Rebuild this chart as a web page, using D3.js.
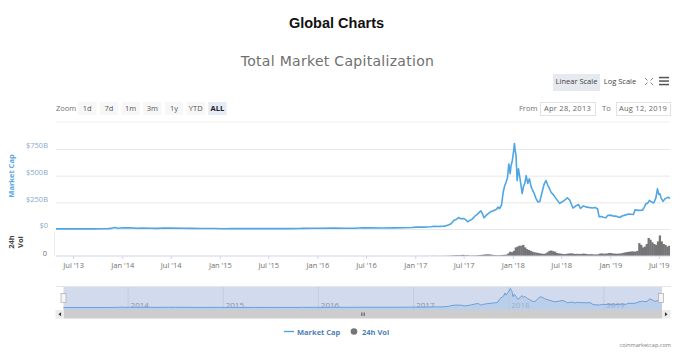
<!DOCTYPE html>
<html>
<head>
<meta charset="utf-8">
<title>Global Charts</title>
<script src="https://cdn.jsdelivr.net/npm/d3@7/dist/d3.min.js"></script>
<style>
    html, body { margin: 0; padding: 0; background: #fff; }
    svg { display: block; }
    text { font-family: "Open Sans", "DejaVu Sans", sans-serif; }
    .domain { display: none; }
</style>
</head>
<body>
<div id="chart"></div>
<script>
// values, market cap and volume in $B
const capDates = ["2013-04-28","2013-05-15","2013-06-15","2013-07-05","2013-08-15","2013-09-15","2013-10-15","2013-11-10","2013-11-25","2013-12-04","2013-12-18",
    "2014-01-05","2014-02-01","2014-02-25","2014-03-20","2014-04-15","2014-05-10","2014-06-05","2014-07-01","2014-08-15","2014-09-20","2014-10-20","2014-11-15","2014-12-15",
    "2015-01-15","2015-02-15","2015-03-15","2015-05-01","2015-06-15","2015-07-10","2015-08-20","2015-09-25","2015-10-25","2015-11-05","2015-12-15",
    "2016-01-15","2016-03-01","2016-04-15","2016-05-20","2016-06-18","2016-07-15","2016-09-01","2016-10-15","2016-11-20","2016-12-20",
    "2017-01-05","2017-02-01","2017-03-01","2017-03-12","2017-04-01","2017-04-20","2017-05-05","2017-05-15","2017-05-25","2017-06-05","2017-06-12","2017-06-20","2017-07-01","2017-07-08","2017-07-16","2017-07-22","2017-08-01","2017-08-12","2017-08-22","2017-09-01","2017-09-04","2017-09-10","2017-09-15","2017-09-22","2017-10-01","2017-10-12","2017-10-20","2017-11-01","2017-11-07","2017-11-12","2017-11-20","2017-11-26","2017-12-01","2017-12-07","2017-12-12","2017-12-17","2017-12-22","2017-12-25","2017-12-30",
    "2018-01-04","2018-01-07","2018-01-10","2018-01-13","2018-01-17","2018-01-22","2018-01-28","2018-02-05","2018-02-10","2018-02-15","2018-02-20","2018-02-26","2018-03-04","2018-03-10","2018-03-15","2018-03-22","2018-03-28","2018-04-05","2018-04-12","2018-04-20","2018-04-28","2018-05-05","2018-05-12","2018-05-18","2018-05-24","2018-06-02","2018-06-12","2018-06-25","2018-07-05","2018-07-14","2018-07-24","2018-08-02","2018-08-14","2018-08-24","2018-09-04","2018-09-11","2018-09-22","2018-10-05","2018-10-25","2018-11-05","2018-11-14","2018-11-20","2018-11-28","2018-12-05","2018-12-15","2018-12-22","2018-12-30",
    "2019-01-10","2019-01-25","2019-02-05","2019-02-14","2019-02-25","2019-03-10","2019-03-28","2019-04-03","2019-04-15","2019-05-01","2019-05-08","2019-05-14","2019-05-20","2019-05-27","2019-06-03","2019-06-12","2019-06-20","2019-06-26","2019-07-01","2019-07-05","2019-07-10","2019-07-17","2019-07-25","2019-08-05","2019-08-12"];
const capValues = [1.5,1.3,1.2,0.9,1.3,1.6,1.9,3.8,8.5,14.5,7.5,
    11,10.5,7.5,8.5,6.5,6,9,8.5,7.2,5.8,5,5.2,4.6,
    3,3.4,3.9,3.4,3.4,4.5,3.4,3.5,4.2,6,6.8,
    6.7,8.8,7.4,7.6,12.3,10.5,9.5,10.5,12,13.5,
    17.5,17.5,21,25,24,27,38,50,80,92,108,96,99,88,68,78,90,120,140,165,170,140,105,125,145,165,172,185,206,190,225,345,400,440,480,610,518,590,640,
    730,802,732,690,454,565,470,333,400,430,500,426,472,400,370,333,290,253,259,340,420,454,410,380,345,320,285,240,255,270,293,270,197,215,229,192,216,205,197,201,190,114,118,110,105,127,130,
    123,118,108,122,130,140,136,179,175,176,205,238,240,268,255,244,290,377,325,330,290,259,285,299,285];

const volStart = "2017-01-02"; // first weekly column, one value per week after this
const volValues = [0.3,0.3,0.2,0.2,0.3,0.3,0.4,0.5,0.6,1,0.8,0.7,0.5,
    0.6,0.7,0.9,1.2,1.5,2,3,4,4,5,4,6,7,4,5,3,2,3,2.5,3,5,6,7,8,9,10,9,8,6,
    5,4,4,5,6,7,8,15,25,22,30,50,55,60,
    60,65,50,40,35,30,25,22,20,18,15,14,12,15,22,30,32,28,25,18,15,14,12,11,12,14,15,15,13,12,13,12,12,14,13,11,10,11,10,9,9,10,14,15,13,14,15,18,
    17,14,14,13,14,15,17,20,22,24,25,27,26,26,30,75,65,50,55,70,105,95,80,70,65,85,120,85,70,65,55,60,50];

const capTicks = [0, 250, 500, 750];
const volTicks = [0];
const timeTicks = ["2013-07-01","2014-01-01","2014-07-01","2015-01-01","2015-07-01","2016-01-01","2016-07-01","2017-01-01","2017-07-01","2018-01-01","2018-07-01","2019-01-01","2019-07-01"];
const navYears = ["2014-01-01","2015-01-01","2016-01-01","2017-01-01","2018-01-01","2019-01-01"];
const zoomLabels = ["1d","7d","1m","3m","1y","YTD","ALL"];
const dateRange = ["2013-04-28","2019-08-12"];

const width = 680, height = 353;
const left = 56, right = 670;
const capColor = "#4fa6e2", volColor = "#757575", labelColor = "#707070";

const parse = d3.utcParse("%Y-%m-%d");
const cap = capDates.map((d, i) => ({date: parse(d), value: capValues[i]}));
const vol = volValues.map((v, i) => ({date: d3.utcWeek.offset(parse(volStart), i), value: v}));
const domain = dateRange.map(parse);

const svg = d3.select("#chart").append("svg").attr("width", width).attr("height", height);

// titles
svg.append("text").text("Global Charts")
    .attr("x", 336.5).attr("y", 28).attr("text-anchor", "middle")
    .style("font-family", "'Liberation Sans', Arial, sans-serif")
    .style("font-size", "14.5px").style("font-weight", "bold").attr("fill", "#111");
svg.append("text").text("Total Market Capitalization")
    .attr("x", 337.5).attr("y", 66).attr("text-anchor", "middle")
    .style("font-family", "'DejaVu Sans', sans-serif")
    .style("font-size", "14px").style("letter-spacing", "0.3px").attr("fill", "#707070");

// zoom buttons
function smallText(x, y, str, anchor, color, weight){
    return svg.append("text").text(str).attr("x", x).attr("y", y)
        .attr("text-anchor", anchor || "start")
        .attr("fill", color || labelColor)
        .style("font-size", "7.5px")
        .style("font-weight", weight || "normal");
}
smallText(56, 110.5, "Zoom");
zoomLabels.forEach((label, i) => {
    let x = 78 + i * 21.7, active = label === "ALL";
    svg.append("rect").attr("x", x).attr("y", 102).attr("width", 18.5).attr("height", 13)
        .attr("fill", active ? "#e6ebf5" : "#f7f7f7");
    smallText(x + 9.25, 110.5, label, "middle", active ? "#222" : "#555", active ? "bold" : "normal");
});

// scale switch and icons
svg.append("rect").attr("x", 553).attr("y", 74).attr("width", 47).attr("height", 17).attr("fill", "#e6e9ed");
smallText(576.5, 84, "Linear Scale", "middle", "#444");
smallText(620, 84, "Log Scale", "middle", "#444");
const icons = svg.append("g").attr("stroke", "#666").attr("fill", "none").attr("stroke-width", 0.8);
[[645, 78, 1, 1], [653, 78, -1, 1], [645, 85, 1, -1], [653, 85, -1, -1]].forEach(c => {
    icons.append("path").attr("d", d3.line()([[c[0], c[1]], [c[0] + 2.5 * c[2], c[1] + 2.5 * c[3]]]));
});
[77.5, 81, 84.5].forEach(y => {
    svg.append("rect").attr("x", 659).attr("y", y - 0.7).attr("width", 10).attr("height", 1.5).attr("fill", "#555");
});

// date range inputs
smallText(519, 110.5, "From");
smallText(602, 110.5, "To");
[[540, 55, dateRange[0], "Apr 28, 2013"], [616, 54, dateRange[1], "Aug 12, 2019"]].forEach(b => {
    svg.append("rect").attr("x", b[0] + 0.5).attr("y", 102.5).attr("width", b[1]).attr("height", 13)
        .attr("fill", "#fff").attr("stroke", "#e2e2e2");
    smallText(b[0] + b[1] / 2, 110.5, b[3], "middle", "#666").style("letter-spacing", "0.25px");
});

svg.append("line").attr("x1", left).attr("x2", right).attr("y1", 122).attr("y2", 122).attr("stroke", "#f0f0f0");

// main scales
const x = d3.scaleUtc().domain(domain).range([left, right]);
const yCap = d3.scaleLinear().domain([0, 750]).range([229, 149]);
const yVol = d3.scaleLinear().domain([0, 140]).range([256, 232]);

// market cap axis with grid, labels sit a little above their grid lines
const capAxis = svg.append("g").attr("transform", `translate(${left},0)`)
    .call(d3.axisLeft(yCap).tickValues(capTicks).tickSize(-(right - left)).tickPadding(8)
        .tickFormat(d => "$" + d + (d ? "B" : "")));
capAxis.selectAll("line").attr("stroke", "#e8e8e8");
capAxis.selectAll("text").attr("fill", "#86aacb").attr("y", -3.5).style("font-size", "7.5px");

const volAxis = svg.append("g").attr("transform", `translate(${left},0)`)
    .call(d3.axisLeft(yVol).tickValues(volTicks).tickSize(0).tickPadding(9));
volAxis.selectAll("text").attr("fill", labelColor).attr("y", -3).style("font-size", "7.5px");
svg.append("line").attr("x1", left - 1.5).attr("x2", left - 1.5).attr("y1", 231).attr("y2", 256).attr("stroke", "#ececec");

svg.append("text").text("Market Cap")
    .attr("transform", "translate(13.5,176) rotate(-90)").attr("text-anchor", "middle")
    .attr("fill", "#5aa8e4").style("font-size", "7.5px").style("font-weight", "bold");
["24h", "Vol"].forEach((t, i) => {
    svg.append("text").text(t)
        .attr("transform", `translate(${13.5 + i * 9},242) rotate(-90)`).attr("text-anchor", "middle")
        .attr("fill", "#444").style("font-size", "7.5px").style("font-weight", "bold");
});

// volume columns
const colWidth = x(vol[1].date) - x(vol[0].date);
svg.append("g").selectAll("rect").data(vol).join("rect")
    .attr("x", d => x(d.date))
    .attr("width", d => Math.min(colWidth + 0.4, right - x(d.date)))
    .attr("y", d => yVol(d.value))
    .attr("height", d => yVol(0) - yVol(d.value))
    .attr("fill", volColor);

// market cap line
svg.append("path").datum(cap)
    .attr("fill", "none").attr("stroke", capColor).attr("stroke-width", 1.6).attr("stroke-linejoin", "round")
    .attr("d", d3.line().x(d => x(d.date)).y(d => yCap(d.value)));

// time axis
const timeAxis = svg.append("g").attr("transform", "translate(0,256)")
    .call(d3.axisBottom(x).tickValues(timeTicks.map(parse)).tickSize(3).tickPadding(4)
        .tickFormat(d3.utcFormat("%b '%y")));
timeAxis.selectAll("line").attr("stroke", "#ccd6eb");
timeAxis.selectAll("text").attr("fill", labelColor).style("font-size", "7.5px");
svg.append("line").attr("x1", left).attr("x2", right).attr("y1", 256).attr("y2", 256).attr("stroke", "#ccd6eb");

// navigator
const navLeft = 63.5, navRight = 662, navTop = 287, navBottom = 310;
const xNav = d3.scaleUtc().domain(domain).range([navLeft, navRight]);
const yNav = d3.scaleLinear().domain([0, 800]).range([307.5, 288.5]);
svg.append("rect").attr("x", navLeft).attr("y", navTop).attr("width", navRight - navLeft).attr("height", navBottom - navTop)
    .attr("fill", "#d2daee");
svg.append("line").attr("x1", 56).attr("x2", 671).attr("y1", navTop - 0.5).attr("y2", navTop - 0.5).attr("stroke", "#e6e6e6");
const navGrid = svg.append("g").selectAll("g").data(navYears.map(parse)).join("g");
navGrid.append("line")
    .attr("x1", d => xNav(d)).attr("x2", d => xNav(d)).attr("y1", navTop).attr("y2", navBottom)
    .attr("stroke", "#c3cce2");
svg.append("path").datum(cap)
    .attr("fill", "#a9c6e8").attr("fill-opacity", 0.55)
    .attr("d", d3.area().x(d => xNav(d.date)).y0(navBottom).y1(d => yNav(d.value)));
svg.append("path").datum(cap)
    .attr("fill", "none").attr("stroke", "#6d9fd6").attr("stroke-width", 1)
    .attr("d", d3.line().x(d => xNav(d.date)).y(d => yNav(d.value)));
navGrid.append("text").text(d3.utcFormat("%Y"))
    .attr("x", d => xNav(d) + 2.5).attr("y", 308).attr("fill", "#8d94a3").style("font-size", "8px");

// navigator handles
[navLeft, navRight - 1].forEach(hx => {
    svg.append("rect").attr("x", hx - 2.5).attr("y", 293.5).attr("width", 5).attr("height", 9)
        .attr("fill", "#f4f4f4").attr("stroke", "#aaa").attr("stroke-width", 0.7);
});

// scrollbar
svg.append("rect").attr("x", navLeft).attr("y", navBottom).attr("width", navRight - navLeft).attr("height", 8.5).attr("fill", "#cdcdcd");
[[55.5, 1], [662, -1]].forEach(b => {
    svg.append("rect").attr("x", b[0]).attr("y", navBottom).attr("width", 8.5).attr("height", 8.5).attr("fill", "#ececec");
    let cx = b[0] + 4.25, cy = navBottom + 4.25;
    svg.append("path").attr("fill", "#333")
        .attr("d", d3.line()([[cx + 1.3 * b[1], cy - 2], [cx - 1.3 * b[1], cy], [cx + 1.3 * b[1], cy + 2]]) + "Z");
});
[-1.5, 0, 1.5].forEach(o => {
    svg.append("line").attr("x1", 363 + o).attr("x2", 363 + o).attr("y1", navBottom + 2.5).attr("y2", navBottom + 6)
        .attr("stroke", "#555").attr("stroke-width", 0.7);
});

// legend
const legendColor = "#4f7fb5";
svg.append("line").attr("x1", 284).attr("x2", 294).attr("y1", 331.5).attr("y2", 331.5).attr("stroke", capColor).attr("stroke-width", 1.4);
smallText(297, 334.5, "Market Cap", "start", legendColor, "bold");
svg.append("circle").attr("cx", 354).attr("cy", 331.5).attr("r", 3.3).attr("fill", volColor);
smallText(362, 334.5, "24h Vol", "start", legendColor, "bold");

smallText(671, 347, "coinmarketcap.com", "end", "#808080").style("font-size", "5.6px");
</script>
</body>
</html>
